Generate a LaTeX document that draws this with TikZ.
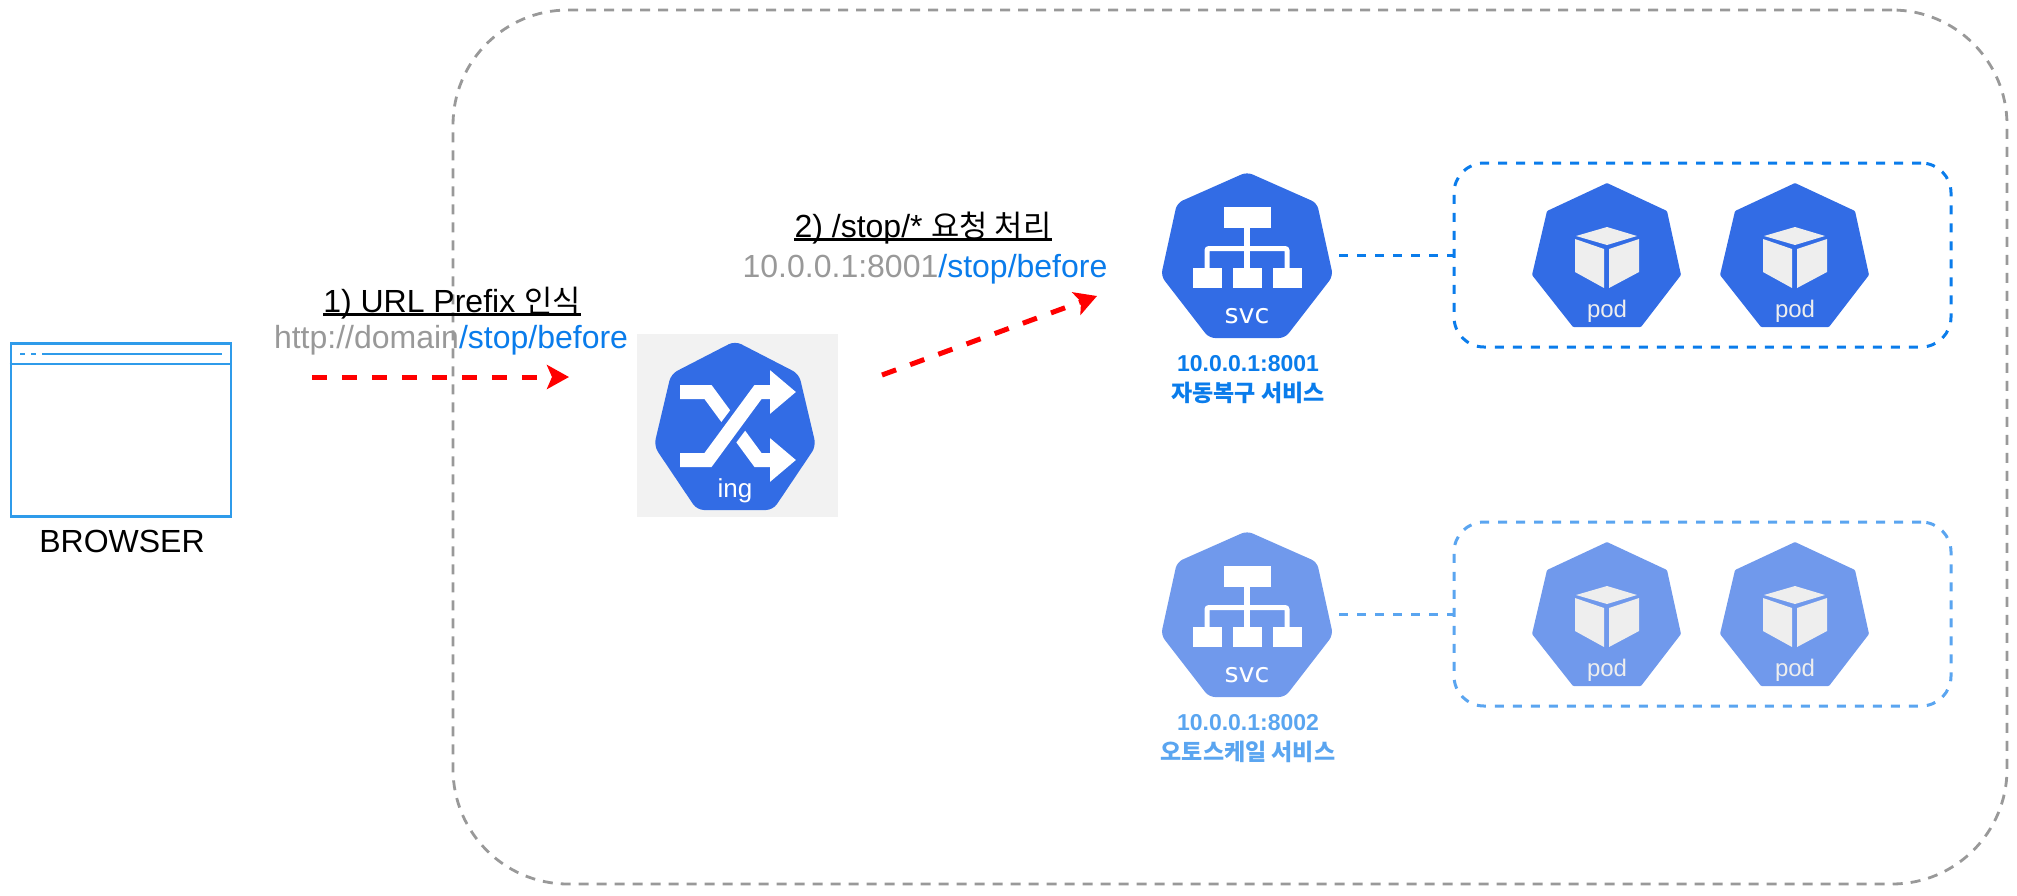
\documentclass[tikz,border=0pt]{standalone}
\usepackage{fontspec}
\setmainfont{Liberation Sans}
\newfontfamily\krfont[Scale=0.96]{Noto Sans CJK KR}
\newfontfamily\krbold{Noto Sans CJK KR}
\newfontfamily\svcfont{DejaVu Sans}
\usetikzlibrary{arrows.meta}
\definecolor{kubeblue}{HTML}{326CE5}
\definecolor{kubelight}{HTML}{7099EC}
\definecolor{svcblue}{HTML}{0A7CEB}
\definecolor{svclight}{HTML}{5AA5F0}
\definecolor{browserblue}{HTML}{2F9BEA}
\definecolor{urlgray}{HTML}{999999}
\definecolor{cubegray}{HTML}{EEEEEE}
\tikzset{clusterbox/.style = {draw=urlgray, line width=2.8pt, rounded corners=115pt, dash pattern=on 10pt off 8pt, inner sep=0}}
\tikzset{groupbox/.style = {line width=3pt, rounded corners=30pt, dash pattern=on 9pt off 9pt, inner sep=0, minimum width=497pt, minimum height=184pt}}
\tikzset{reqarrow/.style = {red, line width=5pt, dash pattern=on 15pt off 15pt, -{Stealth[length=22pt, width=24pt, inset=5pt]}}}
\tikzset{urltext/.style = {font=\fontsize{32}{38}\selectfont, anchor=base, inner sep=0}}
\tikzset{infotext/.style = {font=\fontsize{23}{30}\selectfont\bfseries, align=center, inner sep=0}}
\tikzset{pics/svcicon/.style = {code = {
  \node [inner sep=0, minimum width=184pt, minimum height=166pt] (body) at (0, 0) {};
  \fill [#1, rounded corners=6pt] (0, -83) -- (70, -52) -- (86, 21) -- (38, 83) -- (-38, 83) -- (-86, 21) -- (-70, -52) -- cycle;
  \fill [white] (-23.5, -48) rectangle (23.5, -27);
  \fill [white] (-3, -27) rectangle (3, 13);
  \draw [white, line width=5pt, rounded corners=2pt] (-40, 13) -- (-40, -6.5) -- (40, -6.5) -- (40, 13);
  \foreach \x in {-40, 0, 40} {
    \fill [white] (\x-14.5, 13) rectangle (\x+14.5, 33);
  }
  \node [white, anchor=base, inner sep=0, font=\svcfont\fontsize{27}{30}\selectfont] (name) at (0, 68) {svc};
}}}
\tikzset{pics/podicon/.style = {code = {
  \fill [#1, rounded corners=1pt] (0, -72) -- (60, -44) -- (74, 20) -- (34, 72) -- (-34, 72) -- (-75, 20) -- (-60, -44) -- cycle;
  \fill [cubegray] (0, -28) -- (30, -19) -- (0, -10) -- (-31, -19) -- cycle;
  \fill [cubegray] (-32, -16) -- (-3, -6) -- (-3, 33) -- (-32, 17) -- cycle;
  \fill [cubegray] (32, -16) -- (2, -6) -- (2, 33) -- (32, 17) -- cycle;
  \node [cubegray, anchor=base, inner sep=0, font=\fontsize{24}{28}\selectfont] (name) at (0, 62) {pod};
}}}

\begin{document}
\begin{tikzpicture}[x=1pt, y=-1pt]
  \useasboundingbox (0, 0) rectangle (2017, 895);

  \node [clusterbox, minimum width=1554pt, minimum height=874pt] (cluster) at (1230, 447) {};

  % browser window
  \node [draw=browserblue, line width=2.6pt, inner sep=0, minimum width=220pt, minimum height=173pt] (browser) at (121, 430) {};
  \draw [browserblue, line width=2.6pt] (browser.west |- 0, 364) -- (browser.east |- 0, 364);
  \draw [browserblue, line width=2.4pt, dash pattern=on 5pt off 6pt] (20, 354) -- (37, 354);
  \draw [browserblue, line width=2.4pt] (42, 354) -- (222, 354);
  \node [anchor=base, inner sep=0, font=\fontsize{32}{38}\selectfont] (browserlabel) at (122, 552) {BROWSER};

  % ingress
  \node [fill=black!5, inner sep=0, minimum width=201pt, minimum height=183pt] (ingbg) at (737.5, 425.5) {};
  \fill [kubeblue, rounded corners=7pt] (735, 341) -- (799, 374) -- (816, 446) -- (773, 510) -- (697, 510) -- (654, 446) -- (671, 374) -- cycle;
  \draw [white, line width=14pt, -{Triangle[length=26pt, width=42pt]}] (680, 392) -- (708, 392) -- (758, 460) -- (796, 460);
  \draw [kubeblue, line width=24pt] (708, 460) -- (762, 388);
  \draw [white, line width=14pt, -{Triangle[length=26pt, width=42pt]}] (680, 460) -- (708, 460) -- (758, 392) -- (796, 392);
  \node [white, anchor=base, inner sep=0, font=\fontsize{26}{28}\selectfont] (inglabel) at (735, 497) {ing};

  % request labels
  \node [urltext] (stepone) at (452, 312) {1) URL Prefix {\krfont 인식}};
  \draw [line width=2.6pt] ([yshift=-2.6pt]stepone.base west) -- ([yshift=-2.6pt]stepone.base east);
  \node [urltext] (urlone) at (451, 348) {\textcolor{urlgray}{http://domain}\textcolor{svcblue}{/stop/before}};
  \node [urltext] (steptwo) at (923, 237) {2) /stop/* {\krfont 요청 처리}};
  \draw [line width=2.6pt] ([yshift=-2.6pt]steptwo.base west) -- ([yshift=-2.6pt]steptwo.base east);
  \node [urltext] (urltwo) at (925, 277) {\textcolor{urlgray}{10.0.0.1:8001}\textcolor{svcblue}{/stop/before}};

  \coordinate (reqstart) at (312, 377);
  \coordinate (reqend) at (569, 377);
  \coordinate (fwdstart) at (882, 375);
  \coordinate (fwdend) at (1097, 296);
  \draw [reqarrow] (reqstart) -- (reqend);
  \draw [reqarrow] (fwdstart) -- (fwdend);

  % services and pods
  \foreach \row/\rowy/\hept/\tone/\addr/\svcname in {A/255/kubeblue/svcblue/10.0.0.1:8001/자동복구 서비스, B/614/kubelight/svclight/10.0.0.1:8002/오토스케일 서비스} {
    \pic (svc\row) at (1247, \rowy) {svcicon=\hept};
    \node [infotext, text=\tone] (info\row) at (1248, \rowy+125) {\addr\\{\krbold\svcname}};
    \node [groupbox, draw=\tone] (group\row) at (1702.5, \rowy) {};
    \draw [\tone, line width=3pt, dash pattern=on 9pt off 9pt] (svc\row body) -- (group\row.west);
    \foreach \podx/\podname in {1607/a, 1795/b} {
      \pic (pod\row\podname) at (\podx, \rowy) {podicon=\hept};
    }
  }
\end{tikzpicture}
\end{document}
